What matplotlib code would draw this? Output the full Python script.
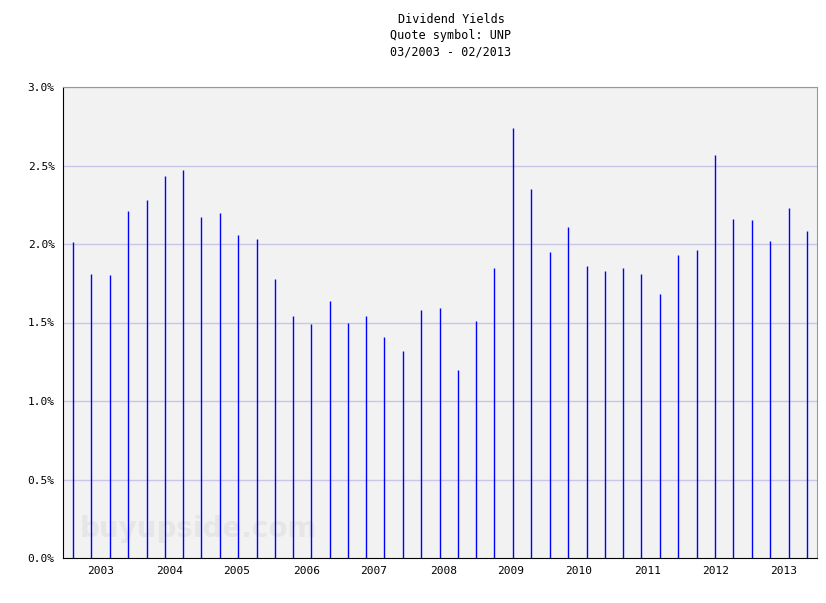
import matplotlib
matplotlib.use("Agg")
import matplotlib.pyplot as plt

# months since 03/2003 (axis spans 0..120)
months = [1.6, 4.5, 7.5, 10.3, 13.4, 16.2, 19.1, 22.0, 25.0, 27.9, 30.9, 33.7, 36.6, 39.5,
          42.5, 45.4, 48.2, 51.1, 54.1, 57.0, 60.0, 62.9, 65.7, 68.6, 71.6, 74.5, 77.5,
          80.4, 83.4, 86.3, 89.1, 92.0, 95.0, 97.9, 100.9, 103.8, 106.6, 109.6, 112.5,
          115.6, 118.4]
yields = [2.01, 1.81, 1.80, 2.21, 2.28, 2.43, 2.47, 2.17, 2.20, 2.06, 2.03, 1.78, 1.54, 1.49,
          1.64, 1.50, 1.54, 1.41, 1.32, 1.58, 1.59, 1.20, 1.51, 1.85, 2.74, 2.35, 1.95,
          2.11, 1.86, 1.83, 1.85, 1.81, 1.68, 1.93, 1.96, 2.57, 2.16, 2.15, 2.02, 2.23, 2.08]
year_labels = ["2003", "2004", "2005", "2006", "2007", "2008", "2009", "2010", "2011", "2012", "2013"]
year_pos = [6.0, 16.9, 27.7, 38.7, 49.5, 60.5, 71.3, 82.1, 93.1, 103.9, 114.7]
yticks = [0.0, 0.5, 1.0, 1.5, 2.0, 2.5, 3.0]

font = "DejaVu Sans Mono"
fig = plt.figure(figsize=(8.26, 6.03), dpi=100)
ax = fig.add_axes([63/826, 45/603, 754/826, 471/603])
ax.set_facecolor("#f2f2f2")
ax.set_xlim(0, 120)
ax.set_ylim(0, 3.0)
for y in yticks[1:]:
    ax.axhline(y, color="#c8c8e6", lw=1, zorder=1)
ax.vlines(months, 0, yields, colors="#0000ff", lw=1, zorder=2)
ax.set_yticks(yticks)
ax.set_yticklabels([f"{v:.1f}%" for v in yticks], fontfamily=font, fontsize=8)
ax.set_xticks(year_pos)
ax.set_xticklabels(year_labels, fontfamily=font, fontsize=8)
ax.tick_params(length=0, pad=6)
for s in ["top", "right"]:
    ax.spines[s].set_color("#999999")
for s in ["left", "bottom"]:
    ax.spines[s].set_color("black")
ax.text(0.022, 0.045, "buyupside.com", transform=ax.transAxes, fontsize=20, fontweight="bold",
        color="#e6e6e6", fontfamily="DejaVu Sans", zorder=0)
fig.text(0.546, 0.978, "Dividend Yields\nQuote symbol: UNP\n03/2003 - 02/2013", ha="center", va="top",
         fontfamily=font, fontsize=8.5, linespacing=1.3)
fig.savefig("out.png", dpi=100)
